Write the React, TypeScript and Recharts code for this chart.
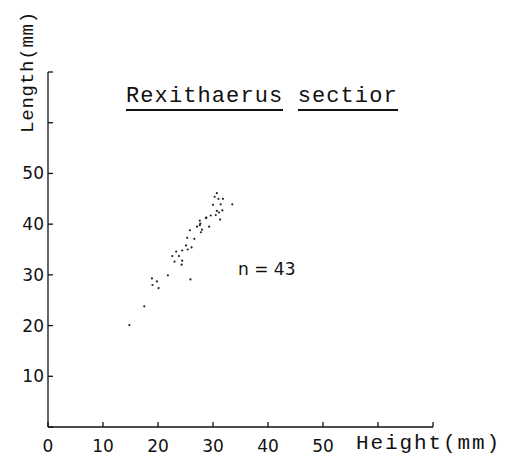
import { ScatterChart, Scatter, XAxis, YAxis } from "recharts";

// shell height (x) vs length (y), mm, n = 43
const heights = [
  14.8, 17.5, 18.9, 19.8, 19.0, 20.1, 21.8, 25.9, 22.6, 23.3, 23.8, 23.0, 24.4,
  24.4, 24.3, 25.1, 25.4, 26.1, 25.3, 26.6, 25.8, 27.1, 27.6, 27.7, 28.0, 27.8,
  28.8, 29.3, 29.6, 30.5, 31.3, 30.7, 31.1, 31.7, 30.0, 31.4, 31.0, 31.8, 30.3,
  30.7, 33.5, 28.7, 27.6,
];
const lengths = [
  20.1, 23.8, 29.3, 28.7, 28.0, 27.4, 29.9, 29.1, 33.7, 34.6, 33.7, 32.6, 34.8,
  32.8, 32.0, 35.8, 35.0, 35.4, 37.3, 37.1, 38.8, 39.5, 40.7, 40.1, 38.9, 38.4,
  41.3, 39.5, 41.7, 41.8, 40.9, 42.6, 42.3, 42.7, 43.8, 43.9, 45.0, 45.0, 45.4,
  46.1, 43.9, 41.2, 39.8,
];
const xTicks = [0, 10, 20, 30, 40, 50, 60, 70];
const yTicks = [0, 10, 20, 30, 40, 50, 60, 70];

const points = heights.map((h, i) => ({ h, l: lengths[i] }));

const MONO = "'Liberation Mono', 'DejaVu Sans Mono', monospace";
const TICK = { fill: "#111", fontSize: 17, fontFamily: "'DejaVu Sans', sans-serif" };

const Dot = (props: any) => (
  <circle cx={props.cx} cy={props.cy} r={1.1} fill="#222" />
);

export default function App() {
  return (
    <div
      style={{
        position: "fixed",
        left: 0,
        top: 0,
        width: 505,
        height: 459,
        background: "#fff",
      }}
    >
      <ScatterChart
        width={505}
        height={459}
        margin={{ top: 72, right: 72, bottom: 0, left: 0 }}
      >
        <XAxis
          type="number"
          dataKey="h"
          domain={[0, 70]}
          ticks={xTicks}
          height={32}
          stroke="#111"
          strokeWidth={1.3}
          tickSize={-5}
          tickMargin={18}
          tick={TICK}
          tickFormatter={(v: number) => (v <= 50 ? String(v) : "")}
        />
        <YAxis
          type="number"
          dataKey="l"
          domain={[0, 70]}
          ticks={yTicks}
          width={48}
          stroke="#111"
          strokeWidth={1.3}
          tickSize={-5}
          tickMargin={9}
          tick={TICK}
          tickFormatter={(v: number) => (v > 0 && v <= 50 ? String(v) : "")}
        />
        <Scatter data={points} shape={Dot} isAnimationActive={false} />
      </ScatterChart>

      {/* title, each word underlined on its own */}
      <div
        style={{
          position: "absolute",
          left: 126,
          top: 86,
          fontFamily: MONO,
          fontSize: 22,
          letterSpacing: 1.1,
          color: "#111",
          whiteSpace: "nowrap",
          lineHeight: "21px",
        }}
      >
        <span style={{ borderBottom: "2px solid #111" }}>Rexithaerus</span>
        <span> </span>
        <span style={{ borderBottom: "2px solid #111" }}>sectior</span>
      </div>

      <div
        style={{
          position: "absolute",
          left: 238,
          top: 259,
          fontFamily: "'DejaVu Sans', sans-serif",
          fontSize: 17,
          color: "#111",
          whiteSpace: "nowrap",
        }}
      >
        n = 43
      </div>

      {/* axis titles */}
      <div
        style={{
          position: "absolute",
          left: 356,
          top: 432,
          fontFamily: MONO,
          fontSize: 21,
          letterSpacing: 1.9,
          color: "#111",
          whiteSpace: "nowrap",
        }}
      >
        Height(mm)
      </div>
      <div
        style={{
          position: "absolute",
          left: 28,
          top: 72,
          transform: "translate(-50%, -50%) rotate(-90deg)",
          fontFamily: MONO,
          fontSize: 19,
          letterSpacing: 0.8,
          color: "#111",
          whiteSpace: "nowrap",
        }}
      >
        Length(mm)
      </div>
    </div>
  );
}
